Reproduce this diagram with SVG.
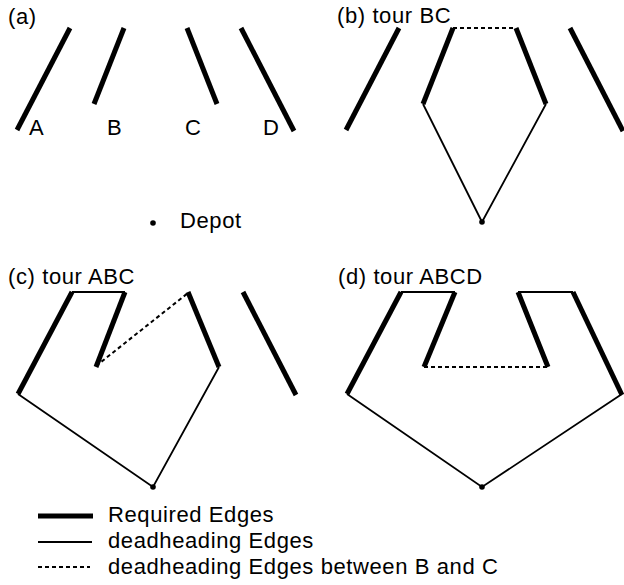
<svg xmlns="http://www.w3.org/2000/svg" width="624" height="585" viewBox="0 0 624 585">
<style>
  text { font-family: "Liberation Sans", Arial, sans-serif; font-size: 22px; letter-spacing: 0.6px; fill: #000; }
  .req { stroke: #000; stroke-width: 5; stroke-linecap: butt; fill: none; }
  .dh { stroke: #000; stroke-width: 1.8; fill: none; stroke-linejoin: miter; }
  .bc { stroke: #000; stroke-width: 2; stroke-dasharray: 4 3; fill: none; }
  .depot { fill: #000; }
</style>
<rect width="624" height="585" fill="#fff"/>

<g id="panel-a">
  <text x="8" y="24">(a)</text>
  <g id="a-edges">
    <line class="req" x1="70" y1="28" x2="17" y2="130"/>
    <line class="req" x1="124" y1="28" x2="94" y2="104"/>
    <line class="req" x1="187" y1="28" x2="217" y2="104"/>
    <line class="req" x1="241" y1="28" x2="294" y2="131"/>
  </g>
  <text x="29" y="135">A</text>
  <text x="107" y="135">B</text>
  <text x="185" y="135">C</text>
  <text x="263" y="135">D</text>
  <circle class="depot" cx="153" cy="223" r="2.8"/>
  <text x="180" y="228">Depot</text>
</g>

<g id="panel-b">
  <text x="337" y="23">(b) tour BC</text>
  <g id="b-connectors">
    <line class="bc" x1="453" y1="28" x2="516" y2="28"/>
    <polyline class="dh" points="423,104 482,222 546,104"/>
  </g>
  <line class="req" x1="399" y1="28" x2="346" y2="130"/>
  <line class="req" x1="453" y1="28" x2="423" y2="104"/>
  <line class="req" x1="516" y1="28" x2="546" y2="104"/>
  <line class="req" x1="570" y1="28" x2="623" y2="131"/>
  <circle class="depot" cx="482" cy="222" r="2.8"/>
</g>

<g id="panel-c">
  <text x="8" y="284">(c) tour ABC</text>
  <g id="c-connectors">
    <line class="dh" x1="72" y1="292" x2="125" y2="292"/>
    <line class="bc" x1="96" y1="366" x2="188" y2="293" stroke-dasharray="3 3"/>
    <polyline class="dh" points="18,394 153,487 219,367"/>
  </g>
  <line class="req" x1="72" y1="292" x2="18" y2="394"/>
  <line class="req" x1="125" y1="292" x2="96" y2="367"/>
  <line class="req" x1="188" y1="292" x2="219" y2="367"/>
  <line class="req" x1="243" y1="292" x2="296" y2="395"/>
  <circle class="depot" cx="153" cy="487" r="2.8"/>
</g>

<g id="panel-d">
  <text x="338" y="284">(d) tour ABCD</text>
  <g id="d-connectors">
    <line class="dh" x1="401" y1="292" x2="455" y2="292"/>
    <line class="dh" x1="518" y1="292" x2="573" y2="292"/>
    <line class="bc" x1="424" y1="367" x2="548" y2="367"/>
    <polyline class="dh" points="347,394 482,487 622,394"/>
  </g>
  <line class="req" x1="401" y1="292" x2="347" y2="394"/>
  <line class="req" x1="455" y1="292" x2="424" y2="367"/>
  <line class="req" x1="518" y1="292" x2="548" y2="367"/>
  <line class="req" x1="573" y1="292" x2="622" y2="395"/>
  <circle class="depot" cx="482" cy="487" r="2.8"/>
</g>

<g id="legend">
  <line class="req" x1="38" y1="516" x2="93" y2="516"/>
  <text x="108" y="522">Required Edges</text>
  <line class="dh" x1="38" y1="542" x2="92" y2="542"/>
  <text x="108" y="548">deadheading Edges</text>
  <line class="bc" x1="38" y1="567" x2="90" y2="567" stroke-dasharray="3 3"/>
  <text x="108" y="574">deadheading Edges between B and C</text>
</g>
</svg>
